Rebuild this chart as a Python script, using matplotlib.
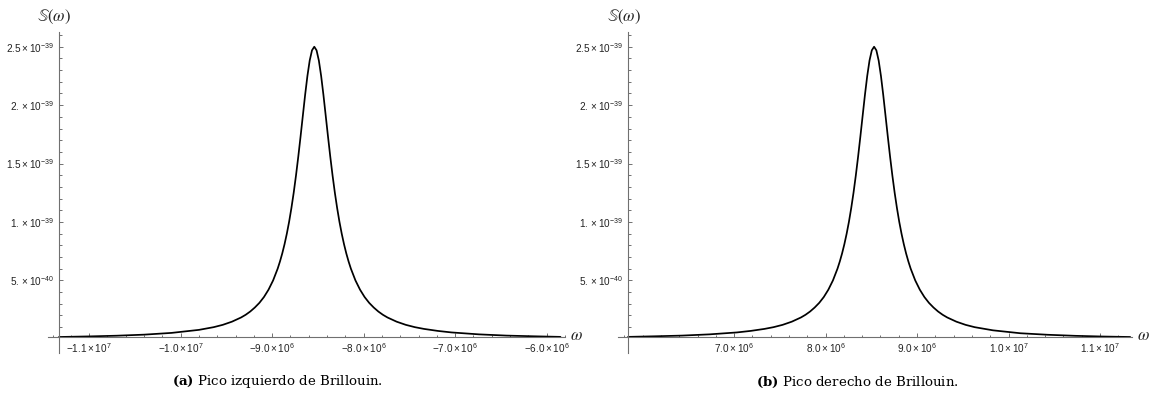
import numpy as np
import matplotlib
matplotlib.use("Agg")
import matplotlib.pyplot as plt

plt.rcParams['font.family'] = ['Liberation Sans', 'DejaVu Sans']
plt.rcParams['mathtext.fontset'] = 'custom'
plt.rcParams['mathtext.rm'] = 'Liberation Sans'
plt.rcParams['mathtext.it'] = 'Liberation Sans:italic'
plt.rcParams['mathtext.bf'] = 'Liberation Sans:bold'

# Pico izquierdo (omega en 1e6, S en 1e-39)
omega_izq = [-11.33, -11.0, -10.7, -10.4, -10.1, -9.8, -9.64, -9.54, -9.44, -9.34,
             -9.29, -9.24, -9.19, -9.14, -9.09, -9.04, -8.99, -8.94, -8.915, -8.89,
             -8.865, -8.84, -8.815, -8.79, -8.765, -8.74, -8.715, -8.69, -8.665, -8.64,
             -8.615, -8.59, -8.565, -8.54, -8.515, -8.49, -8.465, -8.44, -8.415, -8.39,
             -8.365, -8.34, -8.315, -8.29, -8.265, -8.24, -8.215, -8.19, -8.165, -8.14,
             -8.09, -8.04, -7.99, -7.94, -7.89, -7.84, -7.79, -7.74, -7.64, -7.54,
             -7.44, -7.34, -7.19, -7.04, -6.74, -6.44, -6.14, -5.85]
s_izq = [0.016, 0.021, 0.027, 0.036, 0.051, 0.077, 0.100, 0.120, 0.147, 0.183,
         0.206, 0.234, 0.268, 0.308, 0.358, 0.421, 0.500, 0.601, 0.662, 0.731,
         0.810, 0.900, 1.002, 1.119, 1.250, 1.397, 1.558, 1.731, 1.910, 2.088,
         2.250, 2.382, 2.469, 2.500, 2.469, 2.382, 2.250, 2.088, 1.910, 1.731,
         1.558, 1.397, 1.250, 1.119, 1.002, 0.900, 0.810, 0.731, 0.662, 0.601,
         0.500, 0.421, 0.358, 0.308, 0.268, 0.234, 0.206, 0.183, 0.147, 0.120,
         0.100, 0.085, 0.068, 0.055, 0.0385, 0.028, 0.022, 0.017]

# Pico derecho
omega_der = [5.84, 6.13, 6.43, 6.73, 7.03, 7.18, 7.33, 7.43, 7.53, 7.63,
             7.73, 7.78, 7.83, 7.88, 7.93, 7.98, 8.03, 8.08, 8.13, 8.155,
             8.18, 8.205, 8.23, 8.255, 8.28, 8.305, 8.33, 8.355, 8.38, 8.405,
             8.43, 8.455, 8.48, 8.505, 8.53, 8.555, 8.58, 8.605, 8.63, 8.655,
             8.68, 8.705, 8.73, 8.755, 8.78, 8.805, 8.83, 8.855, 8.88, 8.905,
             8.93, 8.98, 9.03, 9.08, 9.13, 9.18, 9.23, 9.28, 9.33, 9.43,
             9.53, 9.63, 9.83, 10.13, 10.43, 10.73, 11.03, 11.33]
s_der = [0.017, 0.022, 0.028, 0.0385, 0.055, 0.068, 0.085, 0.100, 0.120, 0.147,
         0.183, 0.206, 0.234, 0.268, 0.308, 0.358, 0.421, 0.500, 0.601, 0.662,
         0.731, 0.810, 0.900, 1.002, 1.119, 1.250, 1.397, 1.558, 1.731, 1.910,
         2.088, 2.250, 2.382, 2.469, 2.500, 2.469, 2.382, 2.250, 2.088, 1.910,
         1.731, 1.558, 1.397, 1.250, 1.119, 1.002, 0.900, 0.810, 0.731, 0.662,
         0.601, 0.500, 0.421, 0.358, 0.308, 0.268, 0.234, 0.206, 0.183, 0.147,
         0.120, 0.100, 0.073, 0.048, 0.035, 0.026, 0.020, 0.016]

yticks = [5e-40, 1e-39, 1.5e-39, 2e-39, 2.5e-39]
ytick_labels = [r'$5.\times10^{-40}$', r'$1.\times10^{-39}$', r'$1.5\times10^{-39}$',
                r'$2.\times10^{-39}$', r'$2.5\times10^{-39}$']

xticks_izq = [-1.1e7, -1.0e7, -9.0e6, -8.0e6, -7.0e6, -6.0e6]
xlabels_izq = [r'$-1.1\times10^{7}$', r'$-1.0\times10^{7}$', r'$-9.0\times10^{6}$',
               r'$-8.0\times10^{6}$', r'$-7.0\times10^{6}$', r'$-6.0\times10^{6}$']
xticks_der = [7.0e6, 8.0e6, 9.0e6, 1.0e7, 1.1e7]
xlabels_der = [r'$7.0\times10^{6}$', r'$8.0\times10^{6}$', r'$9.0\times10^{6}$',
               r'$1.0\times10^{7}$', r'$1.1\times10^{7}$']

captions = [r'$\mathbf{(a)}$ Pico izquierdo de Brillouin.',
            r'$\mathbf{(b)}$ Pico derecho de Brillouin.']

W, H = 1154, 396
fig = plt.figure(figsize=(W / 100, H / 100), dpi=100)

axis_col = '#707070'


def panel(px_left, px_right, omega, s, xlim, xticks, xlabels, xminor, caption, cap_x):
    # px_* en pixeles de la figura
    top, bottom = 32, 353
    ax = fig.add_axes([px_left / W, (H - bottom) / H,
                       (px_right - px_left) / W, (bottom - top) / H])
    x = np.array(omega) * 1e6
    y = np.array(s) * 1e-39
    ax.plot(x, y, color='black', lw=1.25, solid_capstyle='round', solid_joinstyle='round')
    ax.set_xlim(xlim[0] * 1e6, xlim[1] * 1e6)
    ax.set_ylim(-0.121e-39, 2.626e-39)

    for side in ['top', 'right']:
        ax.spines[side].set_visible(False)
    ax.spines['left'].set_position(('data', x[0]))
    ax.spines['bottom'].set_position(('data', 0.016e-39))
    for side in ['left', 'bottom']:
        ax.spines[side].set_color(axis_col)
        ax.spines[side].set_linewidth(0.8)

    ax.set_xticks(xticks, xlabels)
    ax.set_xticks(xminor, minor=True)
    ax.set_yticks(yticks, ytick_labels)
    ax.set_yticks(np.arange(1, 27) * 1e-40, minor=True)
    ax.tick_params(which='both', direction='in', color=axis_col, width=0.7,
                   labelsize=7.2, labelcolor='#222222')
    ax.tick_params(which='major', length=3.2)
    ax.tick_params(which='minor', length=1.8)
    ax.tick_params(axis='x', pad=3)
    ax.tick_params(axis='y', pad=3.5)
    ax.patch.set_visible(False)

    # etiquetas de los ejes y pie de figura
    fig.text((px_left - 11) / W, 1 - 17 / H, r'$\mathbb{S}(\omega)$', math_fontfamily='stix',
             fontsize=12, ha='left', va='center', color='#222222')
    fig.text((px_right + 5) / W, 1 - 336 / H, r'$\omega$', math_fontfamily='stix',
             fontsize=12, ha='left', va='center', color='#222222')
    fig.text(cap_x / W, 1 - 382 / H, caption, family='DejaVu Serif',
             math_fontfamily='dejavuserif', fontsize=9.6, ha='center', va='center')
    return ax


minor_izq = np.arange(-11.4, -5.79, 0.2) * 1e6
minor_der = np.arange(5.8, 11.35, 0.2) * 1e6
panel(48, 565, omega_izq, s_izq, (-11.45, -5.80), xticks_izq, xlabels_izq,
      minor_izq, captions[0], 277)
panel(618, 1132, omega_der, s_der, (5.73, 11.35), xticks_der, xlabels_der,
      minor_der, captions[1], 857)

fig.savefig('out.png', dpi=100)
